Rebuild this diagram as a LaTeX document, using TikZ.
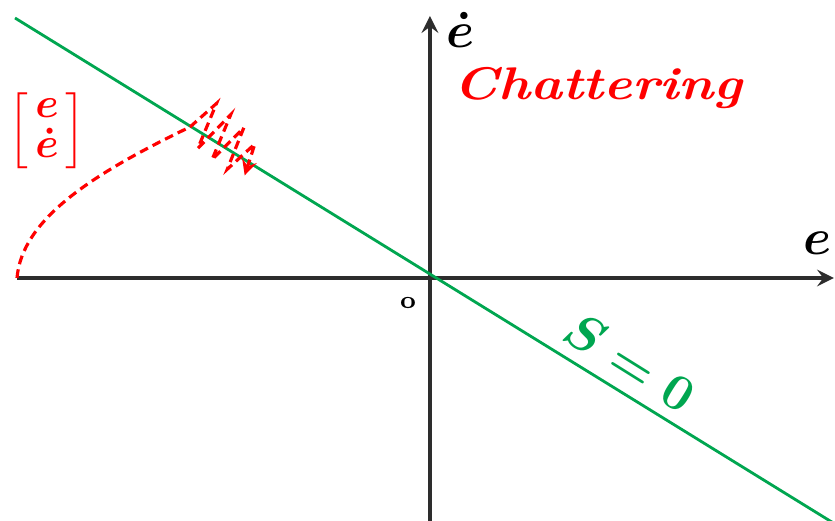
\documentclass[tikz,border=0pt]{standalone}
\usepackage{amsmath}
\usepackage{graphicx}
\usetikzlibrary{arrows, calc}
\definecolor{slgreen}{RGB}{0,166,80}
\definecolor{axgray}{RGB}{45,45,45}
\tikzset{
  axis/.style={draw=axgray, line width=1.1pt, ->, >=stealth},
  sline/.style={draw=slgreen, line width=0.8pt},
  traj/.style={draw=red, line width=0.9pt, dash pattern=on 2.5pt off 1.5pt},
  chat/.style={traj, ->, >=stealth},
  alab/.style={font=\fontsize{15}{15}\selectfont, inner sep=0pt}
}

\begin{document}
\begin{tikzpicture}[x=0.01cm, y=-0.01cm]
	\useasboundingbox (0,0) rectangle (835,521);
	% axes
	\coordinate (O) at (430,278);
	\coordinate (xl) at (17,278);
	\coordinate (xr) at (834,278);
	\coordinate (yb) at (430,521);
	\coordinate (yt) at (430,16);
	\draw[axis] (xl) -- (xr);
	\draw[axis] (yb) -- (yt);
	\node[alab] (elab) at (818,243) {$\boldsymbol{e}$};
	\node[alab] (edlab) at (461,30) {$\boldsymbol{\dot{e}}$};
	\node[font=\scriptsize\bfseries, inner sep=0pt] (olab) at (408,303) {o};
	% sliding surface
	\coordinate (s1) at (15,18);
	\coordinate (s2) at (835,524);
	\draw[sline] (s1) -- (s2);
	\node[text=slgreen, rotate=-32, font=\fontsize{14}{14}\selectfont, inner sep=0pt] (slab) at (630,362) {$\boldsymbol{S=0}$};
	% trajectory reaching the surface
	\coordinate (hit) at (190,127);
	\draw[traj] (xl) .. controls (22,220) and (90,175) .. (hit);
	% chattering around S=0
	\begin{scope}[shift={(hit)}, rotate=-32]
		\draw[chat] (0,0) -- (10,-34) -- (18,14) -- (28,-32) -- (36,16) -- (46,-28) -- (54,16) -- (64,-20) -- (72,12);
	\end{scope}
	% labels
	\node[text=red, font=\fontsize{13}{13}\selectfont, inner sep=0pt] (vec) at (47,131)
		{\renewcommand{\arraystretch}{0.72}$\begin{bmatrix}\,\boldsymbol{e}\,\\ \,\boldsymbol{\dot{e}}\,\end{bmatrix}$};
	\node[text=red, font=\fontsize{13}{13}\selectfont\bfseries\itshape, inner sep=0pt] (chlab) at (598,88) {\scalebox{1.18}[1]{Chattering}};
\end{tikzpicture}
\end{document}
